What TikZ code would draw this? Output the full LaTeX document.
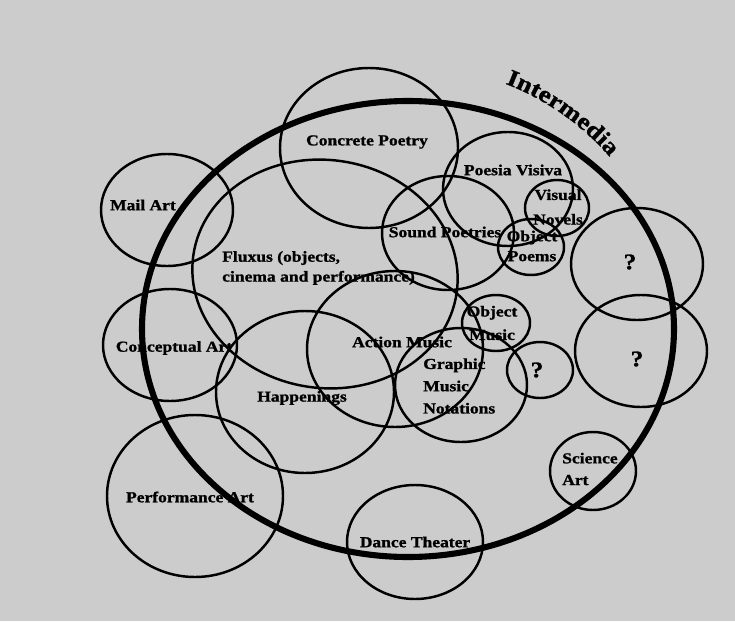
\documentclass[tikz,border=0pt]{standalone}
\usepackage{fontspec}
\setmainfont{Liberation Serif}[FakeStretch=1.15, BoldFeatures={FakeBold=1.2}]
\usetikzlibrary{decorations.text}
\tikzset{
  ring/.style={draw=black, line width=2.1pt},
  bigring/.style={draw=black, line width=5.2pt},
  lbl/.style={font=\bfseries\fontsize{13}{19}\selectfont, inner sep=0pt, text=black},
  qlbl/.style={font=\bfseries\fontsize{19}{22}\selectfont, inner sep=0pt, text=black},
}
\begin{document}
\begin{tikzpicture}[x=0.03cm, y=-0.03cm]
  \fill[black!20] (0,0) rectangle (735,621);
  \useasboundingbox (0,0) rectangle (735,621);

  % thin circles
  \draw[ring] (167,210) ellipse [x radius=66, y radius=56];   % Mail Art
  \draw[ring] (369,148) ellipse [x radius=89, y radius=80];   % Concrete Poetry
  \draw[ring, rotate around={-8:(325,274)}] (325,274) ellipse [x radius=133, y radius=114]; % Fluxus
  \draw[ring] (448,233) ellipse [x radius=66, y radius=57];   % Sound Poetries
  \draw[ring] (508,189) ellipse [x radius=65, y radius=57];   % Poesia Visiva
  \draw[ring] (557,208) ellipse [x radius=32, y radius=28];   % Visual Novels
  \draw[ring] (531,247) ellipse [x radius=33, y radius=28];   % Object Poems
  \draw[ring] (637,264) ellipse [x radius=66, y radius=56];   % ? top
  \draw[ring] (641,351) ellipse [x radius=66, y radius=56];   % ? lower
  \draw[ring] (540,370) ellipse [x radius=33, y radius=28];   % ? small
  \draw[ring] (496,323) ellipse [x radius=34, y radius=28];   % Object Music
  \draw[ring] (461,385) ellipse [x radius=66, y radius=57];   % Graphic Music Notations
  \draw[ring] (395,349) ellipse [x radius=88, y radius=78];   % Action Music
  \draw[ring] (305,392) ellipse [x radius=89, y radius=81];   % Happenings
  \draw[ring] (170,345) ellipse [x radius=67, y radius=56];   % Conceptual Art
  \draw[ring] (195,496) ellipse [x radius=88, y radius=81];   % Performance Art
  \draw[ring] (415,542) ellipse [x radius=68, y radius=57];   % Dance Theater
  \draw[ring] (593,471) ellipse [x radius=43, y radius=39];   % Science Art

  % Intermedia
  \draw[bigring] (408,329) ellipse [x radius=266, y radius=228];
  \path[decorate, decoration={text along path, text align=center,
      text={|\bfseries\fontsize{20}{24}\selectfont|Intermedia}}]
    (410,331) ++(-76:265) arc[start angle=-76, end angle=-34, radius=265];

  % labels
  \node[lbl] (mail) at (143,205) {Mail Art};
  \node[lbl] (concrete) at (367,142) {Concrete Poetry};
  \node[lbl, anchor=west, align=left, font=\bfseries\fontsize{13}{17}\selectfont] (fluxus) at (222,268) {Fluxus (objects,\\cinema and performance)};
  \node[lbl] (poesia) at (513,170) {Poesia Visiva};
  \node[lbl, align=center, font=\bfseries\fontsize{13}{21}\selectfont] (visual) at (558,207) {Visual\\Novels};
  \node[lbl] (sound) at (445,232) {Sound Poetries};
  \node[lbl, align=center, font=\bfseries\fontsize{13}{17}\selectfont] (objpoems) at (532,246) {Object\\Poems};
  \node[qlbl] (qtop) at (630,262) {?};
  \node[qlbl] (qlow) at (637,359) {?};
  \node[qlbl] (qsmall) at (537,370) {?};
  \node[lbl, align=center, font=\bfseries\fontsize{13}{20}\selectfont] (objmusic) at (492,323) {Object\\Music};
  \node[lbl] (concept) at (174,348) {Conceptual Art};
  \node[lbl] (action) at (402,342) {Action Music};
  \node[lbl, anchor=west, align=left, font=\bfseries\fontsize{13}{19}\selectfont] (graphic) at (423,386) {Graphic\\Music\\Notations};
  \node[lbl] (happen) at (302,398) {Happenings};
  \node[lbl] (perf) at (190,497) {Performance Art};
  \node[lbl] (dance) at (415,542) {Dance Theater};
  \node[lbl, anchor=west, align=left, font=\bfseries\fontsize{13}{18.5}\selectfont] (science) at (562,469) {Science\\Art};
\end{tikzpicture}
\end{document}
